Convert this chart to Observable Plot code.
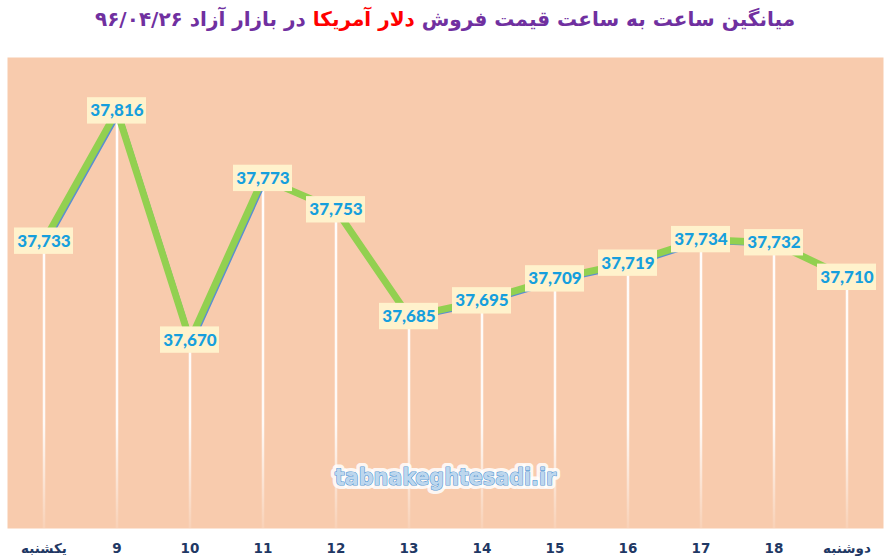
<!DOCTYPE html>
<html>
<head>
<meta charset="utf-8">
<script src="https://cdn.jsdelivr.net/npm/d3@7"></script>
<script src="https://cdn.jsdelivr.net/npm/@observablehq/plot@0.6"></script>
<style>
  html, body { margin: 0; padding: 0; background: #ffffff; }
  #title {
    height: 42px; line-height: 38px; text-align: center; direction: rtl;
    font-family: "DejaVu Sans", sans-serif; font-weight: bold; font-size: 20px;
    color: #7030A0; width: 890px;
  }
  #title .red { color: #FF0000; }
</style>
</head>
<body>
<div id="title">میانگین ساعت به ساعت قیمت فروش <span class="red">دلار آمریکا</span> در بازار آزاد ۹۶/۰۴/۲۶</div>
<div id="chart"></div>
<script>
const hours = ["یکشنبه", "9", "10", "11", "12", "13", "14", "15", "16", "17", "18", "دوشنبه"];
const prices = [37733, 37816, 37670, 37773, 37753, 37685, 37695, 37709, 37719, 37734, 37732, 37710];
const yDomain = [37550, 37850];
const watermark = ["tabnakeghtesadi.ir"];

const data = hours.map((h, i) => ({hour: h, value: prices[i]}));
const fmt = d3.format(",");
const halfBox = 8.4;

const W = 890, H = 518, mt = 15, mb = 32;

const chart = Plot.plot({
  width: W,
  height: H,
  marginTop: mt,
  marginBottom: mb,
  marginLeft: 7,
  marginRight: 7,
  style: {background: "transparent", overflow: "visible"},
  x: {type: "band", domain: hours, padding: 0, label: null},
  y: {domain: yDomain, axis: null},
  marks: [
    Plot.frame({fill: "#F8CBAD", stroke: null}),
    Plot.axisX({tickSize: 0, tickPadding: 15, fontSize: 13.5, fontWeight: "bold",
      fill: "#1F3864", fontFamily: "DejaVu Sans, sans-serif", label: null}),
    Plot.ruleX(data, {x: "hour", y1: "value", y2: yDomain[0], stroke: "url(#dropFade)", strokeWidth: 2.5}),
    Plot.line(data, {x: "hour", y: "value", stroke: "#5B8FD0", strokeWidth: 3, dx: 2.6, dy: 2.6}),
    Plot.line(data, {x: "hour", y: "value", stroke: "#92D050", strokeWidth: 7}),
    Plot.barY(data, {x: "hour", y1: d => d.value - halfBox, y2: d => d.value + halfBox,
      fill: "#FFF2CC", insetLeft: 7, insetRight: 7}),
    Plot.text(data, {x: "hour", y: "value", text: d => fmt(d.value), fill: "#169FDD",
      fontSize: 17, fontWeight: 900, fontFamily: "Lato, sans-serif", dy: 0}),
    Plot.text(watermark, {frameAnchor: "bottom", dy: -44, text: d => d, fontSize: 23,
      fontFamily: "DejaVu Sans Condensed, DejaVu Sans, sans-serif", fontWeight: "bold",
      fill: "white", stroke: "white", strokeWidth: 8, strokeOpacity: 0.85, strokeLinejoin: "round"}),
    Plot.text(watermark, {frameAnchor: "bottom", dy: -44, text: d => d, fontSize: 23,
      fontFamily: "DejaVu Sans Condensed, DejaVu Sans, sans-serif", fontWeight: "bold",
      fill: "#BDD7EE", stroke: "#5B9BD5", strokeWidth: 1.2})
  ]
});

const svgNS = "http://www.w3.org/2000/svg";
const defs = document.createElementNS(svgNS, "defs");
const grad = document.createElementNS(svgNS, "linearGradient");
grad.setAttribute("id", "dropFade");
grad.setAttribute("gradientUnits", "userSpaceOnUse");
grad.setAttribute("x1", "0"); grad.setAttribute("x2", "0");
grad.setAttribute("y1", String(mt)); grad.setAttribute("y2", String(H - mb));
[[0, 1], [0.78, 0.9], [1, 0.12]].forEach(([o, a]) => {
  const s = document.createElementNS(svgNS, "stop");
  s.setAttribute("offset", String(o));
  s.setAttribute("stop-color", "#FFFFFF");
  s.setAttribute("stop-opacity", String(a));
  grad.appendChild(s);
});
defs.appendChild(grad);
chart.insertBefore(defs, chart.firstChild);

document.getElementById("chart").appendChild(chart);
</script>
</body>
</html>
